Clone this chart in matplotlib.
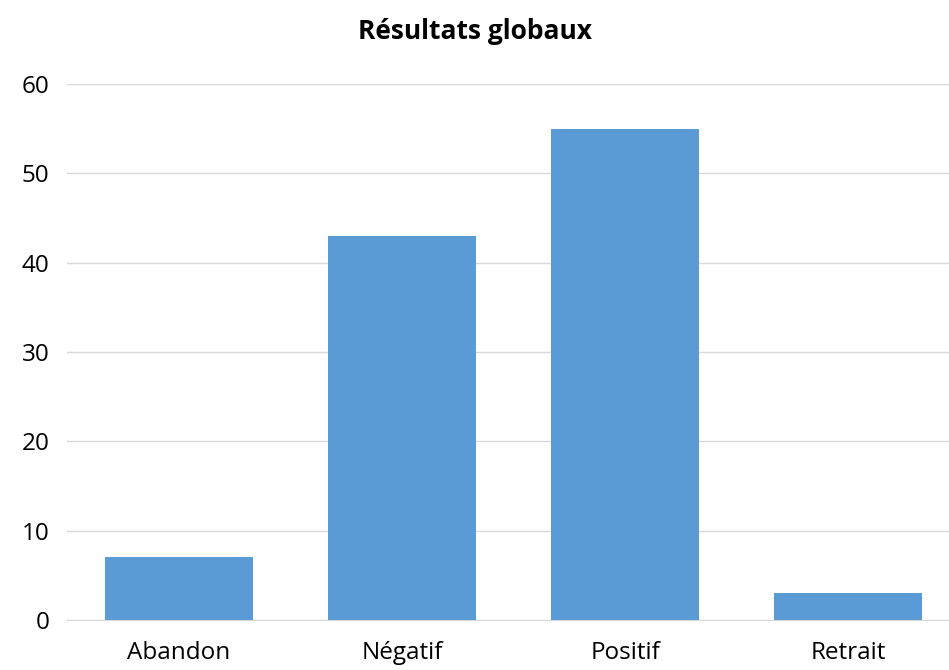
import matplotlib.pyplot as plt

categories = ['Abandon', 'Négatif', 'Positif', 'Retrait']
values = [7, 43, 55, 3]

plt.rcParams['font.family'] = ['Open Sans', 'DejaVu Sans']

fig = plt.figure(figsize=(9.49, 6.70), dpi=100)
ax = fig.add_axes([0.0711, 0.0746, 0.94, 0.80])

x = range(len(categories))
ax.bar(x, values, width=0.664, color='#5B9BD5', zorder=3)

ax.set_xlim(-0.5, 3.5)
ax.set_ylim(0, 60)
ax.set_yticks(range(0, 61, 10))
ax.set_xticks(list(x))
ax.set_xticklabels(categories)
ax.grid(axis='y', color='#D9D9D9', linewidth=1, zorder=0)
for s in ['top', 'right', 'left']:
    ax.spines[s].set_visible(False)
ax.spines['bottom'].set_color('#D9D9D9')
ax.tick_params(axis='both', length=0, labelsize=17.5, colors='#000000')
ax.tick_params(axis='y', pad=13)
ax.tick_params(axis='x', pad=15)

fig.text(0.5, 0.953, 'Résultats globaux', ha='center', va='center',
         fontsize=19, fontweight='bold')

fig.savefig('out.png', dpi=100)
